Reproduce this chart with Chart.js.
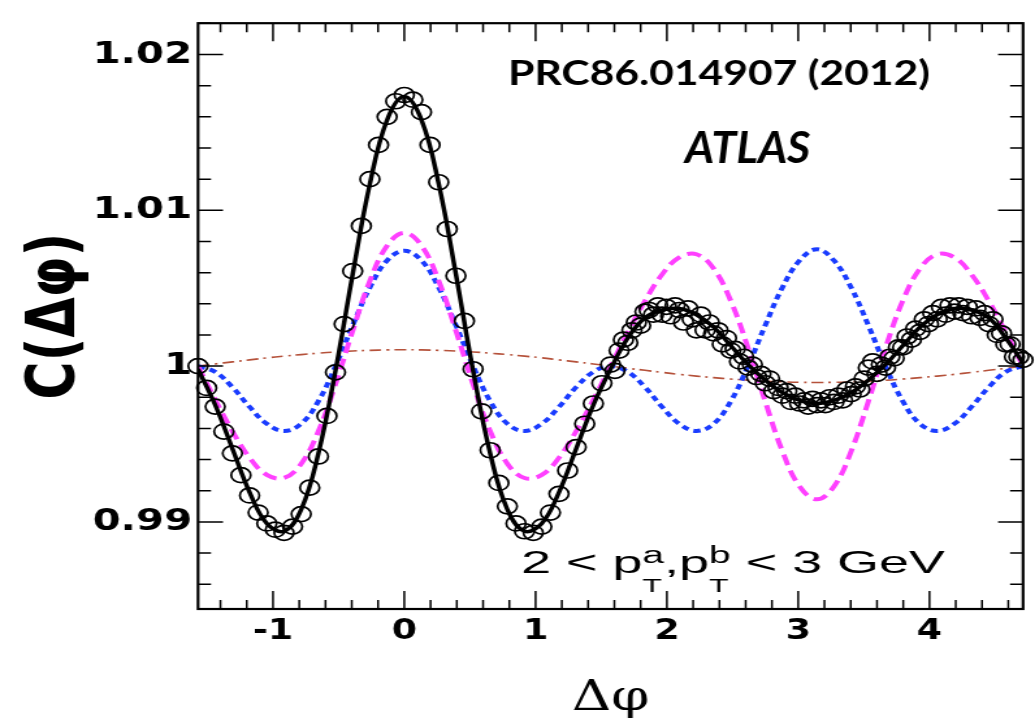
<!DOCTYPE html>
<html>
<head>
<meta charset="utf-8">
<script src="https://cdn.jsdelivr.net/npm/chart.js@4.4.1/dist/chart.umd.min.js"></script>
<style>
html,body{margin:0;padding:0;background:#fff;overflow:hidden}
#wrap{width:1035px;height:718px;overflow:hidden;background:#fff}
#c{display:block;transform:scaleX(1.30025);transform-origin:0 0}
</style>
</head>
<body>
<div id="wrap"><canvas id="c" width="796" height="718"></canvas></div>
<script>
// ---------- axis settings ----------
const xMin = -1.5708, xMax = 4.7124;
const yMin = 0.98441, yMax = 1.02201;
const xTickValues = [-1, 0, 1, 2, 3, 4];
const xTickLabels = ['-1', '0', '1', '2', '3', '4'];
const yTickValues = [0.99, 1.0, 1.01, 1.02];
const yTickLabels = ['0.99', '1', '1.01', '1.02'];

// ---------- curves (sampled every pi/24 from -pi/2 to 3pi/2) ----------
const curveX = [-1.5708,-1.440,-1.309,-1.178,-1.047,-0.916,-0.785,-0.654,-0.524,-0.393,-0.262,-0.131,0,
  0.131,0.262,0.393,0.524,0.654,0.785,0.916,1.047,1.178,1.309,1.440,1.571,
  1.702,1.833,1.963,2.094,2.225,2.356,2.487,2.618,2.749,2.880,3.011,3.142,
  3.272,3.403,3.534,3.665,3.796,3.927,4.058,4.189,4.320,4.451,4.581,4.7124];

const fitTotal = [0.9998,0.9975,0.9947,0.9919,0.9899,0.9894,0.9908,0.9944,0.9997,1.0059,1.0117,1.0158,1.0173,
  1.0158,1.0117,1.0059,0.9997,0.9944,0.9908,0.9894,0.9899,0.9919,0.9947,0.9975,0.9998,
  1.0018,1.0031,1.0036,1.0037,1.0033,1.0025,1.0013,1.0001,0.9991,0.9983,0.9978,0.9976,
  0.9978,0.9983,0.9991,1.0001,1.0013,1.0025,1.0033,1.0037,1.0036,1.0031,1.0018,1.0002];

const fitMagenta = [1.0,0.99784,0.99582,0.99412,0.99302,0.99282,0.99374,0.99582,0.99883,1.00227,1.00547,1.00773,1.00855,
  1.00773,1.00547,1.00227,0.99883,0.99582,0.99374,0.99282,0.99302,0.99412,0.99582,0.99784,1.0,
  1.00216,1.00418,1.00588,1.00698,1.00718,1.00626,1.00418,1.00117,0.99773,0.99453,0.99227,0.99145,
  0.99227,0.99453,0.99773,1.00117,1.00418,1.00626,1.00718,1.00698,1.00588,1.00418,1.00216,1.0];

const fitBlue = [1.0,0.99963,0.99865,0.99738,0.9963,0.99584,0.9963,0.99775,1.0,1.00262,1.00505,1.00678,1.0074,
  1.00678,1.00505,1.00262,1.0,0.99775,0.9963,0.99584,0.9963,0.99738,0.99865,0.99963,1.0,
  0.99963,0.99865,0.99738,0.9963,0.99584,0.9963,0.99775,1.0,1.00262,1.00505,1.00678,1.0075,
  1.00678,1.00505,1.00262,1.0,0.99775,0.9963,0.99584,0.9963,0.99738,0.99865,0.99963,1.0];

const fitBrown = [1.0,1.00014,1.00027,1.0004,1.00053,1.00064,1.00074,1.00083,1.00091,1.00097,1.00101,1.00104,1.00105,
  1.00104,1.00101,1.00097,1.00091,1.00083,1.00074,1.00064,1.00053,1.0004,1.00027,1.00014,1.0,
  0.99986,0.99973,0.9996,0.99947,0.99936,0.99926,0.99917,0.99909,0.99903,0.99899,0.99896,0.99895,
  0.99896,0.99899,0.99903,0.99909,0.99917,0.99926,0.99936,0.99947,0.9996,0.99973,0.99986,1.0];

// ---------- data points ----------
const dataX = [-1.571,-1.505,-1.440,-1.374,-1.309,-1.244,-1.178,-1.113,-1.047,-0.982,-0.916,-0.851,-0.785,-0.720,-0.654,-0.589,
  -0.524,-0.458,-0.393,-0.327,-0.262,-0.196,-0.131,-0.065,0.000,0.065,0.131,0.196,0.262,0.327,0.393,0.458,
  0.524,0.589,0.654,0.720,0.785,0.851,0.916,0.982,1.047,1.113,1.178,1.244,1.309,1.374,1.440,1.505,
  1.571,1.604,1.636,1.669,1.702,1.734,1.767,1.800,1.833,1.865,1.898,1.931,1.963,1.996,2.029,2.062,
  2.094,2.127,2.160,2.193,2.225,2.258,2.291,2.323,2.356,2.389,2.422,2.454,2.487,2.520,2.553,2.585,
  2.618,2.651,2.683,2.716,2.749,2.782,2.814,2.847,2.880,2.913,2.945,2.978,3.011,3.043,3.076,3.109,3.142,
  3.174,3.207,3.240,3.272,3.305,3.338,3.371,3.403,3.436,3.469,3.502,3.534,3.567,3.600,3.633,3.665,
  3.698,3.731,3.763,3.796,3.829,3.862,3.894,3.927,3.960,3.992,4.025,4.058,4.091,4.123,4.156,4.189,
  4.222,4.254,4.287,4.320,4.353,4.385,4.418,4.451,4.483,4.516,4.549,4.581,4.614,4.647,4.680,4.712];

const dataY = [1.0000,0.9986,0.9974,0.9958,0.9944,0.9930,0.9917,0.9906,0.9899,0.9895,0.9893,0.9897,0.9905,0.9922,0.9942,0.9968,
  0.9996,1.0027,1.0061,1.0090,1.0120,1.0142,1.0160,1.0170,1.0174,1.0171,1.0163,1.0142,1.0118,1.0088,1.0058,1.0029,
  0.9998,0.9971,0.9946,0.9925,0.9910,0.9899,0.9894,0.9893,0.9897,0.9906,0.9918,0.9933,0.9948,0.9963,0.9976,0.9989,
  1.0001,0.9997,1.0010,1.0017,1.0015,1.0023,1.0028,1.0026,1.0035,1.0036,1.0033,1.0039,1.0033,1.0038,1.0032,1.0039,
  1.0036,1.0028,1.0037,1.0030,1.0023,1.0033,1.0023,1.0028,1.0021,1.0023,1.0014,1.0018,1.0010,1.0011,1.0003,1.0006,
  0.9999,1.0001,0.9993,0.9995,0.9989,0.9992,0.9984,0.9986,0.9981,0.9984,0.9977,0.9981,0.9976,0.9978,0.9974,0.9979,0.9975,
  0.9978,0.9975,0.9980,0.9977,0.9981,0.9978,0.9985,0.9982,0.9987,0.9985,0.9992,0.9999,1.0003,0.9995,1.0001,0.9999,
  1.0006,1.0005,1.0012,1.0012,1.0019,1.0017,1.0024,1.0022,1.0030,1.0027,1.0034,1.0030,1.0038,1.0033,1.0039,1.0035,
  1.0039,1.0034,1.0038,1.0032,1.0037,1.0031,1.0034,1.0027,1.0030,1.0020,1.0021,1.0014,1.0014,1.0006,1.0006,1.0004];

// ---------- texts ----------
const textRef = 'PRC86.014907 (2012)';
const textExp = 'ATLAS';

// ---------- rendering ----------
const S = 1035 / 796; // horizontal stretch of the whole picture

const framePlugin = {
  id: 'frameTicks',
  afterDraw(chart) {
    const {ctx, chartArea: a, scales: {x, y}} = chart;
    ctx.save();
    ctx.strokeStyle = '#000';
    ctx.lineWidth = 1.5;
    ctx.beginPath();
    for (let k = -7; k <= 23; k++) {
      const v = k * 0.2;
      if (v < xMin || v > xMax) continue;
      const px = x.getPixelForValue(v);
      const major = Math.abs(v - Math.round(v)) < 1e-6;
      const L = major ? 18 : 9;
      ctx.moveTo(px, a.bottom); ctx.lineTo(px, a.bottom - L);
      ctx.moveTo(px, a.top); ctx.lineTo(px, a.top + L);
    }
    for (let k = 0; k <= 18; k++) {
      const m = 986 + 2 * k; // in 1/1000
      const v = m / 1000;
      if (v < yMin || v > yMax) continue;
      const py = y.getPixelForValue(v);
      const major = m % 10 === 0;
      const L = (major ? 25 : 13) / S;
      ctx.moveTo(a.left, py); ctx.lineTo(a.left + L, py);
      ctx.moveTo(a.right, py); ctx.lineTo(a.right - L, py);
    }
    ctx.stroke();
    ctx.lineWidth = 2.2;
    ctx.strokeRect(a.left, a.top, a.right - a.left, a.bottom - a.top);
    ctx.restore();
  }
};

function fitText(ctx, text, font, leftDisp, baseline, widthDisp) {
  ctx.save();
  ctx.font = font;
  const w = ctx.measureText(text).width;
  ctx.translate(leftDisp / S, baseline);
  ctx.scale((widthDisp / S) / w, 1);
  ctx.textAlign = 'left';
  ctx.textBaseline = 'alphabetic';
  ctx.fillStyle = '#000';
  ctx.fillText(text, 0, 0);
  ctx.restore();
}

const textPlugin = {
  id: 'texts',
  afterDraw(chart) {
    const ctx = chart.ctx;
    fitText(ctx, textRef, 'bold 35px Lato', 508, 85, 422);
    fitText(ctx, textExp, 'italic bold 43px Lato', 685, 163, 125);
    // 2 < pT^a, pT^b < 3 GeV
    const mainF = '32px "Liberation Sans"', supF = '23px "Liberation Sans"', subF = '19px "Liberation Sans"';
    const parts = [
      {t: '2 < p', f: mainF, dy: 0},
      {stack: [{t: 'a', f: supF, dy: -10}, {t: 'T', f: subF, dy: 19}]},
      {t: ',', f: mainF, dy: 0},
      {t: 'p', f: mainF, dy: 0},
      {stack: [{t: 'b', f: supF, dy: -10}, {t: 'T', f: subF, dy: 19}]},
      {t: ' < 3 GeV', f: mainF, dy: 0}
    ];
    ctx.save();
    let total = 0;
    const widths = parts.map(p => {
      let w;
      if (p.stack) { w = Math.max(...p.stack.map(q => { ctx.font = q.f; return ctx.measureText(q.t).width; })); }
      else { ctx.font = p.f; w = ctx.measureText(p.t).width; }
      total += w; return w;
    });
    ctx.translate(521 / S, 573);
    ctx.scale((424 / S) / total, 1);
    ctx.fillStyle = '#000';
    ctx.textAlign = 'left';
    ctx.textBaseline = 'alphabetic';
    let cx = 0;
    parts.forEach((p, i) => {
      const items = p.stack ? p.stack : [p];
      items.forEach(q => { ctx.font = q.f; ctx.fillText(q.t, cx, q.dy); });
      cx += widths[i];
    });
    ctx.restore();
  }
};

const tickFontX = {family: 'DejaVu Sans', weight: 'bold', size: 28};
const tickFontY = {family: 'DejaVu Sans', weight: 'bold', size: 31};

function line(xs, ys, color, width, dash) {
  return {
    data: xs.map((x, i) => ({x: x, y: ys[i]})),
    showLine: true, fill: false, borderColor: color, borderWidth: width, borderDash: dash,
    pointRadius: 0, pointHoverRadius: 0, tension: 0.4, borderCapStyle: 'butt'
  };
}

new Chart(document.getElementById('c').getContext('2d'), {
  type: 'scatter',
  data: {
    datasets: [
      Object.assign({label: 'fit'}, line(curveX, fitTotal, '#000000', 3.5, [])),
      {
        label: 'data',
        data: dataX.map((x, i) => ({x: x, y: dataY[i]})),
        showLine: false, pointStyle: 'circle', pointRadius: 7.5, pointHoverRadius: 7.5,
        borderColor: '#000', borderWidth: 1.7, backgroundColor: 'rgba(0,0,0,0)',
        pointBackgroundColor: 'rgba(0,0,0,0)', clip: false
      },
      Object.assign({label: 'odd'}, line(curveX, fitMagenta, '#ff40ff', 4, [11, 6])),
      Object.assign({label: 'even'}, line(curveX, fitBlue, '#1a3cff', 4, [5.5, 4])),
      Object.assign({label: 'v1'}, line(curveX, fitBrown, '#b5523b', 1.6, [9, 4, 2, 4]))
    ]
  },
  options: {
    responsive: false,
    animation: false,
    devicePixelRatio: 1,
    layout: {padding: {left: 0, right: 3.1, top: 6, bottom: 0}},
    plugins: {legend: {display: false}, tooltip: {enabled: false}},
    scales: {
      x: {
        type: 'linear', min: xMin, max: xMax,
        grid: {display: false, drawTicks: false},
        border: {display: false},
        afterBuildTicks: s => { s.ticks = xTickValues.map(v => ({value: v})); },
        afterFit: s => { s.height = 109; },
        ticks: {
          autoSkip: false, maxRotation: 0, minRotation: 0, padding: 6, color: '#000', font: tickFontX,
          callback: v => xTickLabels[xTickValues.indexOf(v)]
        },
        title: {display: true, text: 'Δφ', color: '#000',
          font: {family: 'DejaVu Serif', size: 42, weight: 'normal'}, padding: {top: 0, bottom: -6}}
      },
      y: {
        type: 'linear', min: yMin, max: yMax,
        grid: {display: false, drawTicks: false},
        border: {display: false},
        afterBuildTicks: s => { s.ticks = yTickValues.map(v => ({value: v})); },
        afterFit: s => { s.width = 152.3; },
        ticks: {
          autoSkip: false, padding: 4.6, color: '#000', font: tickFontY,
          callback: v => yTickLabels[yTickValues.indexOf(v)]
        },
        title: {display: true, text: 'C(Δφ)', color: '#000',
          font: {family: 'DejaVu Sans', size: 52, weight: 'bold'}, padding: {top: 12, bottom: 0}}
      }
    }
  },
  plugins: [framePlugin, textPlugin]
});
</script>
</body>
</html>
